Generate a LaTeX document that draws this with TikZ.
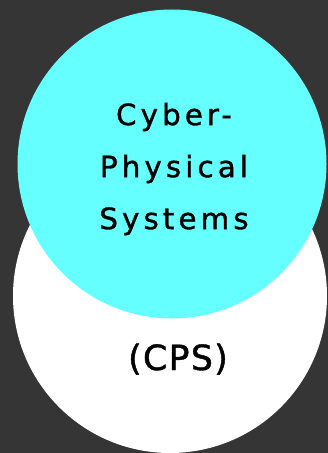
\documentclass[tikz,border=0pt]{standalone}
\usepackage{fontspec}
\usepackage{xcolor}
\setmainfont{DejaVu Sans}
\newfontfamily\techfont[LetterSpace=14,FakeBold=1.2]{DejaVu Sans}
\newfontfamily\abbrevfont[LetterSpace=4,FakeBold=1.2]{DejaVu Sans}
\definecolor{backdrop}{HTML}{353535}
\definecolor{cpscyan}{HTML}{66FFFF}
\usetikzlibrary{positioning}

\begin{document}
\begin{tikzpicture}[x=0.75pt,y=-0.75pt,
    label text/.style={text=black, align=center, inner sep=0pt}]
    % Background
    \fill[backdrop] (0,0) rectangle (328,453);
    \useasboundingbox (0,0) rectangle (328,453);

    % Circles
    \fill[white] (170,296) circle (157);
    \fill[cpscyan] (172,164) circle (154.5);

    % Labels
    \node[label text, font=\techfont\fontsize{22}{39}\selectfont] (title) at (174,169)
        {Cyber-\\Physical\\Systems};
    \node[label text, font=\abbrevfont\fontsize{26}{30}\selectfont, anchor=base] (abbrev) at (178,370) {(CPS)};
\end{tikzpicture}
\end{document}
